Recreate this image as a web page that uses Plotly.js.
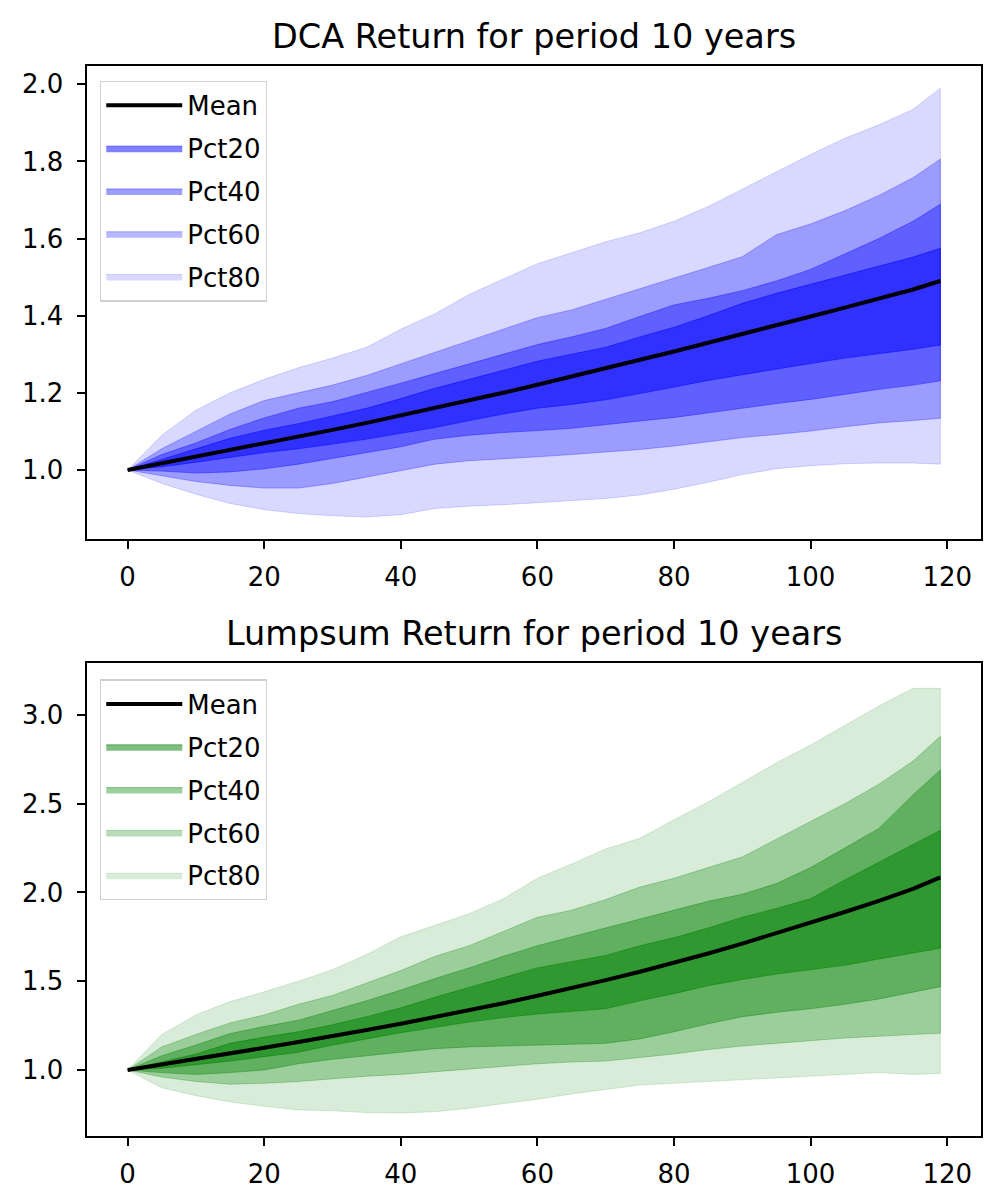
<!DOCTYPE html>
<html>
<head>
<meta charset="utf-8">
<script src="https://cdn.plot.ly/plotly-3.0.1.min.js"></script>
<style>
  html, body { margin: 0; padding: 0; background: #ffffff; }
  #chart { width: 1000px; height: 1204px; }
</style>
</head>
<body>
<div id="chart"></div>
<script>
// Month index
const months = [0,5,10,15,20,25,30,35,40,45,50,55,60,65,70,75,80,85,90,95,100,105,110,115,119];

// DCA Return
const dcaMean  = [1.000,1.017,1.034,1.051,1.068,1.086,1.104,1.122,1.141,1.160,1.180,1.200,1.221,1.242,1.263,1.285,1.307,1.330,1.352,1.375,1.398,1.421,1.444,1.468,1.490];
const dcaP80Up = [1.000,1.090,1.155,1.200,1.235,1.265,1.290,1.318,1.365,1.405,1.455,1.495,1.535,1.563,1.592,1.615,1.645,1.683,1.728,1.775,1.818,1.860,1.895,1.935,1.990];
const dcaP60Up = [1.000,1.055,1.100,1.145,1.180,1.200,1.220,1.245,1.275,1.305,1.335,1.365,1.395,1.415,1.443,1.470,1.497,1.525,1.553,1.610,1.638,1.672,1.712,1.758,1.806];
const dcaP40Up = [1.000,1.040,1.070,1.105,1.135,1.160,1.177,1.200,1.225,1.250,1.275,1.300,1.325,1.345,1.367,1.398,1.428,1.445,1.465,1.490,1.520,1.560,1.600,1.645,1.689];
const dcaP20Up = [1.000,1.028,1.055,1.082,1.103,1.120,1.140,1.160,1.185,1.212,1.235,1.258,1.282,1.300,1.318,1.345,1.370,1.400,1.432,1.458,1.482,1.505,1.528,1.552,1.575];
const dcaP20Lo = [1.000,1.008,1.020,1.032,1.045,1.055,1.067,1.080,1.095,1.110,1.128,1.145,1.160,1.170,1.182,1.198,1.214,1.232,1.247,1.262,1.276,1.290,1.302,1.313,1.324];
const dcaP40Lo = [1.000,0.997,0.992,0.995,1.003,1.015,1.030,1.045,1.060,1.080,1.090,1.097,1.102,1.108,1.117,1.127,1.136,1.147,1.160,1.172,1.183,1.196,1.209,1.220,1.231];
const dcaP60Lo = [1.000,0.985,0.970,0.960,0.953,0.953,0.965,0.980,0.998,1.015,1.024,1.029,1.034,1.040,1.046,1.053,1.062,1.073,1.084,1.092,1.101,1.112,1.122,1.128,1.134];
const dcaP80Lo = [1.000,0.965,0.937,0.913,0.897,0.887,0.881,0.878,0.884,0.900,0.906,0.910,0.915,0.920,0.926,0.935,0.950,0.968,0.988,1.003,1.011,1.016,1.018,1.018,1.015];

// Lumpsum Return
const lumpMean  = [1.000,1.030,1.062,1.093,1.125,1.158,1.190,1.225,1.260,1.297,1.336,1.376,1.418,1.461,1.506,1.553,1.603,1.656,1.712,1.770,1.830,1.890,1.953,2.020,2.085];
const lumpP80Up = [1.000,1.200,1.310,1.385,1.440,1.500,1.565,1.650,1.750,1.815,1.880,1.965,2.080,2.160,2.245,2.305,2.410,2.510,2.620,2.730,2.830,2.940,3.050,3.150,3.150];
const lumpP60Up = [1.000,1.130,1.200,1.265,1.310,1.370,1.420,1.490,1.560,1.640,1.700,1.780,1.860,1.900,1.960,2.030,2.080,2.140,2.200,2.300,2.400,2.500,2.610,2.740,2.880];
const lumpP40Up = [1.000,1.080,1.140,1.205,1.245,1.280,1.335,1.390,1.450,1.515,1.575,1.640,1.700,1.750,1.800,1.850,1.900,1.950,1.990,2.050,2.140,2.250,2.360,2.550,2.690];
const lumpP20Up = [1.000,1.045,1.090,1.150,1.185,1.215,1.255,1.300,1.350,1.410,1.465,1.520,1.575,1.610,1.645,1.700,1.745,1.800,1.860,1.910,1.965,2.070,2.170,2.270,2.350];
const lumpP20Lo = [1.000,1.010,1.030,1.050,1.075,1.100,1.140,1.175,1.210,1.240,1.270,1.295,1.315,1.330,1.345,1.390,1.430,1.475,1.510,1.540,1.565,1.590,1.625,1.660,1.686];
const lumpP40Lo = [1.000,0.985,0.975,0.985,1.000,1.035,1.060,1.080,1.100,1.120,1.130,1.135,1.140,1.145,1.150,1.175,1.215,1.260,1.300,1.325,1.345,1.370,1.400,1.440,1.469];
const lumpP60Lo = [1.000,0.960,0.935,0.920,0.925,0.935,0.950,0.965,0.975,0.990,1.005,1.020,1.035,1.045,1.050,1.070,1.090,1.115,1.135,1.150,1.165,1.180,1.190,1.200,1.207];
const lumpP80Lo = [1.000,0.900,0.855,0.820,0.795,0.775,0.770,0.760,0.758,0.765,0.785,0.810,0.835,0.865,0.890,0.915,0.925,0.935,0.945,0.955,0.965,0.975,0.985,0.975,0.980];

const bandNames = ['Pct20','Pct40','Pct60','Pct80'];
const bandAlpha = [0.5, 0.38, 0.28, 0.15];
const xTicks = [0,20,40,60,80,100,120];

function band(x, up, lo, name, rgb, alpha, xa, ya, leg, rank) {
  const xr = x.slice().reverse();
  const lr = lo.slice().reverse();
  const c = 'rgba(' + rgb + ',' + alpha + ')';
  return {
    type: 'scatter', mode: 'lines',
    x: x.concat(xr), y: up.concat(lr),
    fill: 'toself', fillcolor: c,
    line: {color: c, width: 1},
    name: name, xaxis: xa, yaxis: ya, legend: leg,
    legendgroup: leg + name, legendrank: rank,
    hoverinfo: 'skip'
  };
}

function panel(mean, ups, los, rgb, xa, ya, leg) {
  const tr = [];
  for (let i = 3; i >= 0; i--) {
    tr.push(band(months, ups[i], los[i], bandNames[i], rgb, bandAlpha[i], xa, ya, leg, 2 + i));
  }
  tr.push({
    type: 'scatter', mode: 'lines', x: months, y: mean, name: 'Mean',
    line: {color: '#000000', width: 4},
    xaxis: xa, yaxis: ya, legend: leg, legendgroup: leg + 'Mean', legendrank: 1,
    hoverinfo: 'skip'
  });
  return tr;
}

const traces = [].concat(
  panel(dcaMean, [dcaP20Up, dcaP40Up, dcaP60Up, dcaP80Up], [dcaP20Lo, dcaP40Lo, dcaP60Lo, dcaP80Lo], '0,0,255', 'x', 'y', 'legend'),
  panel(lumpMean, [lumpP20Up, lumpP40Up, lumpP60Up, lumpP80Up], [lumpP20Lo, lumpP40Lo, lumpP60Lo, lumpP80Lo], '0,128,0', 'x2', 'y2', 'legend2')
);

const font = 'DejaVu Sans, Liberation Sans, sans-serif';
const axisCommon = {
  showline: true, mirror: true, linecolor: '#000000', linewidth: 1.9,
  ticks: 'outside', ticklen: 8.5, tickwidth: 1.9, tickcolor: '#000000',
  showgrid: false, zeroline: false,
  tickfont: {family: font, size: 26, color: '#000000'}
};
const legendCommon = {
  xanchor: 'left', yanchor: 'top', x: 0.0145,
  bgcolor: '#ffffff', bordercolor: '#d0d0d0', borderwidth: 1.3,
  font: {family: font, size: 26, color: '#000000'},
  traceorder: 'grouped', tracegroupgap: 6, itemwidth: 76
};

const layout = {
  width: 1000, height: 1204,
  margin: {l: 87, r: 19, t: 66, b: 68},
  paper_bgcolor: '#ffffff', plot_bgcolor: '#ffffff',
  font: {family: font, color: '#000000'},
  showlegend: true,
  xaxis: Object.assign({}, axisCommon, {domain: [0, 1], anchor: 'y', range: [-5.95, 124.95], tickvals: xTicks, ticklabelstandoff: 5}),
  yaxis: Object.assign({}, axisCommon, {domain: [0.558, 1], anchor: 'x', range: [0.8211, 2.0475], tick0: 0, dtick: 0.2, tickformat: '.1f', ticklabelstandoff: 8}),
  xaxis2: Object.assign({}, axisCommon, {domain: [0, 1], anchor: 'y2', range: [-5.95, 124.95], tickvals: xTicks, ticklabelstandoff: 5}),
  yaxis2: Object.assign({}, axisCommon, {domain: [0, 0.4418], anchor: 'x2', range: [0.628, 3.291], tick0: 0, dtick: 0.5, tickformat: '.1f', ticklabelstandoff: 8}),
  legend: Object.assign({}, legendCommon, {y: 0.9863}),
  legend2: Object.assign({}, legendCommon, {y: 0.4268}),
  annotations: [
    {text: 'DCA Return for period 10 years', xref: 'paper', yref: 'paper', x: 0.5, y: 1,
     xanchor: 'center', yanchor: 'middle', yshift: 30, showarrow: false,
     font: {family: font, size: 33.5, color: '#000000'}},
    {text: 'Lumpsum Return for period 10 years', xref: 'paper', yref: 'paper', x: 0.5, y: 0.4418,
     xanchor: 'center', yanchor: 'middle', yshift: 30, showarrow: false,
     font: {family: font, size: 33.5, color: '#000000'}}
  ]
};

Plotly.newPlot('chart', traces, layout, {displayModeBar: false, staticPlot: true});
</script>
</body>
</html>
